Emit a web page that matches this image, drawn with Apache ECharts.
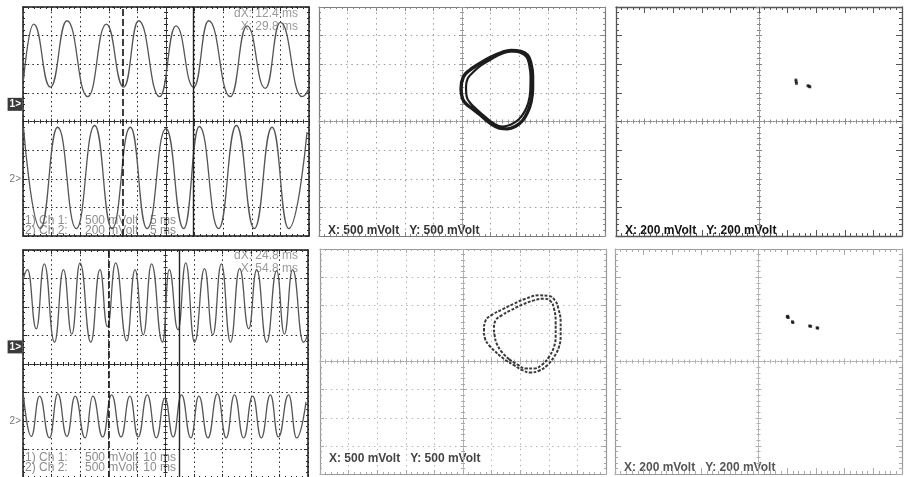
<!DOCTYPE html>
<html>
<head>
<meta charset="utf-8">
<script src="https://cdn.jsdelivr.net/npm/echarts@6/dist/echarts.min.js"></script>
<style>
  html, body { margin: 0; padding: 0; background: #ffffff; }
  #main { width: 908px; height: 477px; }
</style>
</head>
<body>
<div id="main"></div>
<script>
// ---- Time-domain captures (two channels per screen) ----
const timeBaseMs = [5, 10];          // ms per division
const ch1MvPerDiv = [500, 500];
const ch2MvPerDiv = [200, 500];
const cursorXMs = [29.8, 54.8];      // solid cursor position
const cursorDxMs = [12.4, 24.8];     // distance back to the dashed cursor

// trace extrema, [time ms, mV]
const ch1Upper = [[0.1,440],[1.87,1400],[4.78,300],[7.69,1460],[11.31,135],[14.57,1400],[17.6,300],[20.22,1460],[23.89,135],[26.75,1370],[29.84,300],[32.46,1460],[36.25,135],[39.16,1370],[42.37,280],[44.99,1430],[48.78,135],[49.95,270]];
const ch2Upper = [[0.1,350],[3.03,-348],[6.06,360],[9.32,-348],[12.53,372],[15.56,-348],[18.77,360],[21.68,-348],[25.0,350],[28.09,-348],[30.83,365],[34.21,-348],[37.3,372],[40.45,-348],[43.54,360],[46.45,-348],[49.66,326]];
const ch1Lower = [[0,1150],[1.6,1355],[4.65,316],[7.45,1455],[11.05,82],[14.2,1355],[17.13,223],[20.0,1473],[23.8,82],[27.0,1355],[29.6,357],[32.5,1473],[36.4,105],[39.3,1355],[42.2,211],[45.1,1455],[48.95,82],[51.3,1355],[54.4,299],[57.1,1473],[60.2,82],[63.7,1372],[66.6,211],[69.6,1455],[72.8,82],[76.0,1372],[79.2,316],[82.0,1355],[85.5,82],[89.0,1337],[91.7,223],[94.6,1355],[98.4,82],[100,250]];
const ch2Lower = [[0.2,435],[2.9,-268],[5.8,435],[9.3,-297],[12.2,475],[15.4,-268],[18.3,435],[21.8,-297],[24.5,435],[27.98,-280],[31.1,460],[34.4,-280],[37.5,435],[40.4,-280],[43.6,460],[46.8,-297],[49.8,400],[52.7,-280],[55.6,460],[58.9,-297],[61.7,435],[64.9,-297],[68.2,475],[71.3,-297],[74.2,460],[77.4,-297],[80.6,435],[83.6,-297],[86.8,460],[89.6,-280],[93.2,460],[96.0,-297],[99.3,335]];

// ---- XY captures, [X mV, Y mV] ----
const xyMvPerDiv = [500, 200, 500, 200];
const loopUpperOuter = [[332,105],[185,222],[70,309],[10,397],[-17,572],[23,776],[128,892],[302,1009],[507,1126],[682,1201],[857,1241],[1031,1224],[1147,1154],[1206,1009],[1234,804],[1234,572],[1206,339],[1147,164],[1060,17],[944,-80],[797,-128],[652,-115],[507,-40],[332,105]];
const loopUpperInner = [[390,94],[245,222],[140,327],[80,444],[70,601],[98,746],[185,851],[332,979],[524,1096],[699,1184],[867,1224],[1019,1201],[1129,1126],[1177,979],[1199,776],[1194,542],[1159,327],[1089,164],[990,35],[857,-52],[710,-87],[565,-40],[390,94]];
const loopLowerOuter = [[600,142],[455,289],[385,408],[367,555],[397,732],[513,833],[688,927],[892,1028],[1096,1117],[1329,1176],[1503,1165],[1608,1087],[1667,940],[1707,704],[1707,466],[1678,261],[1591,83],[1474,-66],[1329,-165],[1183,-195],[1037,-154],[892,-66],[746,23],[600,142]];
const loopLowerInner = [[804,41],[677,172],[589,319],[554,456],[542,585],[571,732],[677,821],[834,910],[1037,1011],[1241,1087],[1416,1117],[1533,1069],[1591,940],[1620,704],[1620,466],[1591,261],[1503,83],[1387,-53],[1241,-124],[1096,-124],[949,-53],[804,41]];
const dotsUpper = [[258,290],[260,278],[262,266],[342,250],[350,246],[356,242]];
const dotsLower = [[200,318],[207,312],[204,322],[236,283],[240,277],[356,253],[364,250],[408,240],[413,237]];

// ---- screen layout and look ----
const FONT = '"Liberation Sans", Arial, sans-serif';
const groundDiv = [0.6, -2];   // channel 1 / channel 2 ground level, divisions from centre

const styles = {
  dark:  { frame: '#1a1a1a', frameW: 1.5, tick: '#2a2a2a', grid: true,  gridColor: '#222', dash: [1.5, 3.2], center: '#2a2a2a', majorLen: 4, minorLen: 2, cMajor: 3, cMinor: 2 },
  mid:   { frame: '#7a7a7a', frameW: 1.2, tick: '#8a8a8a', grid: true, gridColor: '#999', dash: [1.4, 4], center: '#999', majorLen: 4, minorLen: 2, cMajor: 3, cMinor: 2 },
  sparse:{ frame: '#555', frameW: 1.3, tick: '#555', grid: false, gridColor: '#999', dash: [1, 4], center: '#888', majorLen: 6, minorLen: 3, cMajor: 3, cMinor: 2 },
  light: { frame: '#999', frameW: 1.2, tick: '#aaa', grid: true, gridColor: '#b2b2b2', dash: [1.4, 4], center: '#aaa', majorLen: 4, minorLen: 2, cMajor: 3, cMinor: 2 },
  sparseLight: { frame: '#999', frameW: 1.2, tick: '#aaa', grid: false, gridColor: '#bbb', dash: [1, 4], center: '#b0b0b0', majorLen: 6, minorLen: 3, cMajor: 3, cMinor: 2 }
};

const panels = [
  { box: [23, 7, 286, 229],   kind: 'time', k: 0, style: 'dark', textY: [221, 231], cursorY: [14, 27] },
  { box: [319, 7, 286, 229],  kind: 'xy', k: 0, style: 'mid', textY: 231, bold: '#333' },
  { box: [616, 7, 286, 229],  kind: 'xy', k: 1, style: 'sparse', textY: 231, bold: '#111' },
  { box: [23, 250, 285, 228], kind: 'time', k: 1, style: 'dark', textY: [458, 468], cursorY: [256, 269] },
  { box: [320, 249, 286, 225], kind: 'xy', k: 2, style: 'light', textY: 459, bold: '#444' },
  { box: [615, 249, 287, 225], kind: 'xy', k: 3, style: 'sparseLight', textY: 468, bold: '#555' }
];

const grid = [], xAxis = [], yAxis = [], series = [], graphic = [];

function frameAndCross(gi, st) {
  const xb = xAxis.length, yb = yAxis.length;
  const base = { gridIndex: gi, type: 'value', silent: true, axisLabel: { show: false }, axisPointer: { show: false } };
  const tickStyle = { color: st.tick, width: 1 };
  const frameTick = { show: true, inside: true, length: st.majorLen, lineStyle: tickStyle };
  const frameMinor = { show: true, splitNumber: 5, length: st.minorLen, lineStyle: tickStyle };
  const frameLine = { show: true, onZero: false, lineStyle: { color: st.frame, width: st.frameW } };
  const gridLine = { show: st.grid, lineStyle: { color: st.gridColor, width: 1, type: st.dash } };
  const noSplit = { show: false };
  const xr = { min: -5, max: 5, interval: 1 }, yr = { min: -4, max: 4, interval: 1 };
  xAxis.push(Object.assign({}, base, xr, { position: 'bottom', axisLine: frameLine, axisTick: frameTick, minorTick: frameMinor, splitLine: gridLine }));
  xAxis.push(Object.assign({}, base, xr, { position: 'top', axisLine: frameLine, axisTick: frameTick, minorTick: frameMinor, splitLine: noSplit }));
  yAxis.push(Object.assign({}, base, yr, { position: 'left', axisLine: frameLine, axisTick: frameTick, minorTick: frameMinor, splitLine: gridLine }));
  yAxis.push(Object.assign({}, base, yr, { position: 'right', axisLine: frameLine, axisTick: frameTick, minorTick: frameMinor, splitLine: noSplit }));
  // centre cross: a pair of on-zero axes in each direction so ticks stick out on both sides
  const crossTick = { show: true, inside: false, length: st.cMajor, lineStyle: { color: st.center, width: 1 } };
  const crossMinor = { show: true, splitNumber: 5, length: st.cMinor, lineStyle: { color: st.center, width: 1 } };
  const crossLine = (idx) => ({ show: true, onZero: true, onZeroAxisIndex: idx, lineStyle: { color: st.center, width: 1, type: [1, 1.5] } });
  xAxis.push(Object.assign({}, base, xr, { position: 'bottom', axisLine: crossLine(yb), axisTick: crossTick, minorTick: crossMinor, splitLine: noSplit }));
  xAxis.push(Object.assign({}, base, xr, { position: 'top', axisLine: crossLine(yb), axisTick: crossTick, minorTick: crossMinor, splitLine: noSplit }));
  yAxis.push(Object.assign({}, base, yr, { position: 'left', axisLine: crossLine(xb), axisTick: crossTick, minorTick: crossMinor, splitLine: noSplit }));
  yAxis.push(Object.assign({}, base, yr, { position: 'right', axisLine: crossLine(xb), axisTick: crossTick, minorTick: crossMinor, splitLine: noSplit }));
}

function channelAxis(gi, mvPerDiv, ground, tag, boxed) {
  const label = boxed
    ? { color: '#ffffff', backgroundColor: '#3a3a3a', padding: [2, 1, 1, 2], fontSize: 10, fontWeight: 'bold', margin: 1 }
    : { color: '#777777', fontSize: 10, margin: 2 };
  return {
    gridIndex: gi, type: 'value', position: 'left', silent: true,
    min: (-4 - ground) * mvPerDiv, max: (4 - ground) * mvPerDiv,
    axisLine: { show: false, onZero: false }, axisTick: { show: false }, splitLine: { show: false },
    axisLabel: Object.assign({ show: true, customValues: [0], formatter: () => tag, fontFamily: FONT }, label)
  };
}

function addText(x, y, text, fill, font, align) {
  graphic.push({ type: 'text', x: x, y: y, silent: true,
    style: { text: text, fill: fill, font: font, align: align || 'left', textAlign: align || 'left', verticalAlign: 'middle', textVerticalAlign: 'middle' } });
}

const timeSets = [[ch1Upper, ch2Upper], [ch1Lower, ch2Lower]];
const xyLoops = [[loopUpperOuter, loopUpperInner], null, [loopLowerOuter, loopLowerInner], null];
const xyDots = [null, dotsUpper, null, dotsLower];

panels.forEach((p, gi) => {
  const st = styles[p.style];
  grid.push({ left: p.box[0], top: p.box[1], width: p.box[2], height: p.box[3], containLabel: false, outerBoundsMode: 'none' });
  frameAndCross(gi, st);
  const left = p.box[0];

  if (p.kind === 'time') {
    const k = p.k;
    const tb = timeBaseMs[k];
    const xi = xAxis.length;
    xAxis.push({ gridIndex: gi, type: 'value', show: false, min: 0, max: 10 * tb });
    const y1 = yAxis.length;
    yAxis.push(channelAxis(gi, ch1MvPerDiv[k], groundDiv[0], '1>', true));
    const y2 = yAxis.length;
    yAxis.push(channelAxis(gi, ch2MvPerDiv[k], groundDiv[1], '2>', false));
    const trace = { color: '#555555', width: 1.3 };
    series.push({
      type: 'line', xAxisIndex: xi, yAxisIndex: y1, data: timeSets[k][0],
      smooth: 0.5, smoothMonotone: 'x', symbol: 'none', silent: true, lineStyle: trace, z: 3,
      markLine: {
        silent: true, symbol: 'none', label: { show: false }, animation: false,
        data: [
          { xAxis: cursorXMs[k] - cursorDxMs[k], lineStyle: { type: [7, 3], color: '#111', width: 1.6 } },
          { xAxis: cursorXMs[k], lineStyle: { type: 'solid', color: '#222', width: 1.4 } }
        ]
      }
    });
    series.push({
      type: 'line', xAxisIndex: xi, yAxisIndex: y2, data: timeSets[k][1],
      smooth: 0.5, smoothMonotone: 'x', symbol: 'none', silent: true, lineStyle: trace, z: 3
    });
    const cursorFont = '12px ' + FONT;
    addText(left + 275, p.cursorY[0], 'dX: ' + cursorDxMs[k] + ' ms', '#9a9a9a', cursorFont, 'right');
    addText(left + 275, p.cursorY[1], 'X: ' + cursorXMs[k] + ' ms', '#9a9a9a', cursorFont, 'right');
    const scales = [ch1MvPerDiv[k], ch2MvPerDiv[k]];
    scales.forEach((s, c) => {
      const y = p.textY[c];
      addText(left + 2, y, (c + 1) + ') Ch ' + (c + 1) + ':', '#8c8c8c', cursorFont);
      addText(left + 62, y, s + ' mVolt', '#8c8c8c', cursorFont);
      addText(left + 153, y, tb + ' ms', '#8c8c8c', cursorFont, 'right');
    });
  } else {
    const k = p.k;
    const s = xyMvPerDiv[k];
    const xi = xAxis.length;
    xAxis.push({ gridIndex: gi, type: 'value', show: false, min: -5 * s, max: 5 * s });
    const yi = yAxis.length;
    yAxis.push({ gridIndex: gi, type: 'value', show: false, min: -4 * s, max: 4 * s });
    if (xyLoops[k]) {
      const upper = k === 0;
      xyLoops[k].forEach((loop, j) => {
        series.push({
          type: 'line', xAxisIndex: xi, yAxisIndex: yi, data: loop, smooth: 0.45,
          symbol: 'none', silent: true, z: 3,
          lineStyle: upper
            ? { color: '#1c1c1c', width: j === 0 ? 3.4 : 2.2 }
            : { color: '#3a3a3a', width: 2, type: [3, 1.5] }
        });
      });
    }
    if (xyDots[k]) {
      series.push({
        type: 'scatter', xAxisIndex: xi, yAxisIndex: yi, data: xyDots[k], silent: true,
        symbol: 'rect', symbolSize: 2.8, itemStyle: { color: '#111111' }, z: 3
      });
    }
    addText(left + 9, p.textY, 'X: ' + s + ' mVolt   Y: ' + s + ' mVolt', p.bold, 'bold 12px ' + FONT);
  }
});

const chart = echarts.init(document.getElementById('main'), null, { renderer: 'canvas', width: 908, height: 477 });
chart.setOption({
  animation: false,
  backgroundColor: '#ffffff',
  textStyle: { fontFamily: FONT },
  grid: grid,
  xAxis: xAxis,
  yAxis: yAxis,
  series: series,
  graphic: graphic
});
</script>
</body>
</html>
